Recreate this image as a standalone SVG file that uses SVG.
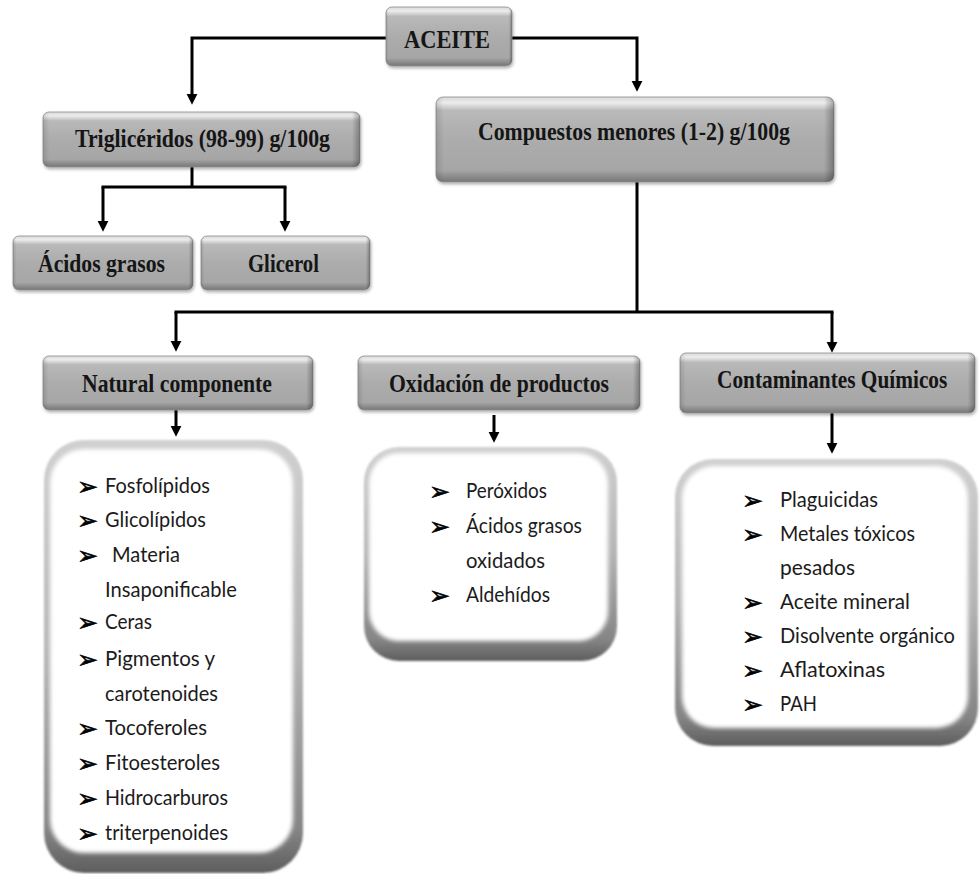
<svg xmlns="http://www.w3.org/2000/svg" width="980" height="874" viewBox="0 0 980 874">
  <defs>
    <style>
      .title { font-family: "Liberation Serif", "Times New Roman", serif; font-weight: bold; font-size: 26px; fill: #151515; }
      .item { font-family: Lato, "Open Sans", sans-serif; font-size: 22px; fill: #1b1b1b; }
      .bullet { font-family: "DejaVu Sans", sans-serif; font-size: 25px; fill: #000; stroke: #000; stroke-width: 0.6; }
      .wire { fill: none; stroke: #000; stroke-width: 3; }
      .arrow { fill: none; stroke: #000; stroke-width: 3; marker-end: url(#head); }
      .box { fill: url(#boxFill); stroke: #8e8e8e; stroke-width: 0.8; filter: url(#shadow); }
      .shade { fill: url(#boxEdge); }
      .frame { fill: url(#frameFill); filter: url(#soft); }
      .pane { fill: #ffffff; filter: url(#soft2); }
    </style>
    <linearGradient id="boxFill" x1="0" y1="0" x2="0" y2="1">
      <stop offset="0" stop-color="#d9d9d9"/>
      <stop offset="0.07" stop-color="#ececec"/>
      <stop offset="0.16" stop-color="#b9b9b9"/>
      <stop offset="0.5" stop-color="#acacac"/>
      <stop offset="0.86" stop-color="#a6a6a6"/>
      <stop offset="1" stop-color="#767676"/>
    </linearGradient>
    <linearGradient id="boxEdge" x1="0" y1="0" x2="1" y2="0">
      <stop offset="0" stop-color="#000" stop-opacity="0.12"/>
      <stop offset="0.02" stop-color="#000" stop-opacity="0"/>
      <stop offset="0.975" stop-color="#000" stop-opacity="0"/>
      <stop offset="1" stop-color="#000" stop-opacity="0.3"/>
    </linearGradient>
    <linearGradient id="frameFill" x1="0" y1="0" x2="0" y2="1">
      <stop offset="0" stop-color="#d0d0d0"/>
      <stop offset="0.5" stop-color="#b5b5b5"/>
      <stop offset="0.9" stop-color="#858585"/>
      <stop offset="1" stop-color="#5e5e5e"/>
    </linearGradient>
    <filter id="shadow" x="-5%" y="-10%" width="112%" height="130%">
      <feDropShadow dx="1" dy="2" stdDeviation="1.5" flood-color="#000" flood-opacity="0.3"/>
    </filter>
    <filter id="soft" x="-5%" y="-5%" width="110%" height="110%">
      <feGaussianBlur stdDeviation="1.2"/>
    </filter>
    <filter id="soft2" x="-5%" y="-5%" width="110%" height="110%">
      <feGaussianBlur stdDeviation="2.2"/>
    </filter>
    <marker id="head" viewBox="0 0 10 10" markerUnits="userSpaceOnUse" markerWidth="11" markerHeight="12" refX="3" refY="5" orient="auto">
      <path d="M0,0 L10,5 L0,10 z" fill="#000"/>
    </marker>
  </defs>

  <rect width="980" height="874" fill="#ffffff"/>

  <!-- connectors -->
  <g id="connectors">
    <path class="arrow" d="M386,38 H192 V97"/>
    <path class="arrow" d="M512,38 H637 V84"/>
    <path class="wire" d="M192,167 V187 M101.5,187 H286.5"/>
    <path class="arrow" d="M103,187 V224"/>
    <path class="arrow" d="M285,187 V224"/>
    <path class="wire" d="M637,182 V312 M174.5,312 H833.5"/>
    <path class="arrow" d="M176,312 V344"/>
    <path class="arrow" d="M832,312 V345"/>
    <path class="arrow" d="M176,410 V429"/>
    <path class="arrow" d="M494,415 V435"/>
    <path class="arrow" d="M832,413 V446"/>
  </g>

  <!-- header nodes -->
  <g id="aceite">
    <rect class="box" x="386" y="7" width="126" height="59" rx="6"/>
    <rect class="shade" x="386" y="7" width="126" height="59" rx="6"/>
    <text class="title" x="404" y="48" textLength="86" lengthAdjust="spacingAndGlyphs">ACEITE</text>
  </g>
  <g id="trigliceridos">
    <rect class="box" x="43" y="112" width="317" height="55" rx="6"/>
    <rect class="shade" x="43" y="112" width="317" height="55" rx="6"/>
    <text class="title" x="75" y="147" textLength="255" lengthAdjust="spacingAndGlyphs">Triglicéridos (98-99) g/100g</text>
  </g>
  <g id="compuestos">
    <rect class="box" x="436" y="97" width="398" height="85" rx="7"/>
    <rect class="shade" x="436" y="97" width="398" height="85" rx="7"/>
    <text class="title" x="478" y="140" textLength="312" lengthAdjust="spacingAndGlyphs">Compuestos menores (1-2) g/100g</text>
  </g>
  <g id="acidos-grasos">
    <rect class="box" x="13" y="236" width="180" height="54" rx="6"/>
    <rect class="shade" x="13" y="236" width="180" height="54" rx="6"/>
    <text class="title" x="38" y="272" textLength="127" lengthAdjust="spacingAndGlyphs">Ácidos grasos</text>
  </g>
  <g id="glicerol">
    <rect class="box" x="201" y="236" width="169" height="54" rx="6"/>
    <rect class="shade" x="201" y="236" width="169" height="54" rx="6"/>
    <text class="title" x="248" y="272" textLength="71" lengthAdjust="spacingAndGlyphs">Glicerol</text>
  </g>
  <g id="natural">
    <rect class="box" x="43" y="356" width="270" height="54" rx="6"/>
    <rect class="shade" x="43" y="356" width="270" height="54" rx="6"/>
    <text class="title" x="82" y="392" textLength="190" lengthAdjust="spacingAndGlyphs">Natural componente</text>
  </g>
  <g id="oxidacion">
    <rect class="box" x="358" y="356" width="282" height="54" rx="6"/>
    <rect class="shade" x="358" y="356" width="282" height="54" rx="6"/>
    <text class="title" x="389" y="392" textLength="220" lengthAdjust="spacingAndGlyphs">Oxidación de productos</text>
  </g>
  <g id="contaminantes">
    <rect class="box" x="680" y="353" width="295" height="60" rx="6"/>
    <rect class="shade" x="680" y="353" width="295" height="60" rx="6"/>
    <!-- condensed horizontally so the natural glyph run stays inside the canvas -->
    <text class="title" transform="translate(717,388) scale(0.82,1)" x="0" y="0">Contaminantes Químicos</text>
  </g>

  <!-- list panels -->
  <g id="natural-list">
    <rect class="frame" x="44" y="440" width="259" height="433" rx="40"/>
    <rect class="pane" x="50" y="449" width="243" height="404" rx="34"/>
    <g class="bullet">
      <text x="77" y="495">➢</text>
      <text x="77" y="529">➢</text>
      <text x="77" y="564">➢</text>
      <text x="77" y="631">➢</text>
      <text x="77" y="668">➢</text>
      <text x="77" y="737">➢</text>
      <text x="77" y="772">➢</text>
      <text x="77" y="807">➢</text>
      <text x="77" y="842">➢</text>
    </g>
    <g class="item">
      <text x="105" y="493" textLength="105" lengthAdjust="spacingAndGlyphs">Fosfolípidos</text>
      <text x="105" y="527" textLength="101" lengthAdjust="spacingAndGlyphs">Glicolípidos</text>
      <text x="112" y="562" textLength="68" lengthAdjust="spacingAndGlyphs">Materia</text>
      <text x="105" y="597" textLength="132" lengthAdjust="spacingAndGlyphs">Insaponificable</text>
      <text x="105" y="629" textLength="47" lengthAdjust="spacingAndGlyphs">Ceras</text>
      <text x="105" y="666" textLength="110" lengthAdjust="spacingAndGlyphs">Pigmentos y</text>
      <text x="105" y="701" textLength="113" lengthAdjust="spacingAndGlyphs">carotenoides</text>
      <text x="105" y="735" textLength="102" lengthAdjust="spacingAndGlyphs">Tocoferoles</text>
      <text x="105" y="770" textLength="115" lengthAdjust="spacingAndGlyphs">Fitoesteroles</text>
      <text x="105" y="805" textLength="123" lengthAdjust="spacingAndGlyphs">Hidrocarburos</text>
      <text x="105" y="840" textLength="123" lengthAdjust="spacingAndGlyphs">triterpenoides</text>
    </g>
  </g>

  <g id="oxidacion-list">
    <rect class="frame" x="364" y="447" width="253" height="214" rx="35"/>
    <rect class="pane" x="369" y="453" width="239" height="188" rx="30"/>
    <g class="bullet">
      <text x="429" y="500">➢</text>
      <text x="429" y="535">➢</text>
      <text x="429" y="604">➢</text>
    </g>
    <g class="item">
      <text x="466" y="498" textLength="81" lengthAdjust="spacingAndGlyphs">Peróxidos</text>
      <text x="466" y="533" textLength="116" lengthAdjust="spacingAndGlyphs">Ácidos grasos</text>
      <text x="466" y="568" textLength="79" lengthAdjust="spacingAndGlyphs">oxidados</text>
      <text x="466" y="602" textLength="84" lengthAdjust="spacingAndGlyphs">Aldehídos</text>
    </g>
  </g>

  <g id="contaminantes-list">
    <rect class="frame" x="675" y="459" width="303" height="287" rx="38"/>
    <rect class="pane" x="682" y="466" width="286" height="262" rx="32"/>
    <g class="bullet">
      <text x="742" y="509">➢</text>
      <text x="742" y="543">➢</text>
      <text x="742" y="611">➢</text>
      <text x="742" y="645">➢</text>
      <text x="742" y="679">➢</text>
      <text x="742" y="713">➢</text>
    </g>
    <g class="item">
      <text x="780" y="507" textLength="98" lengthAdjust="spacingAndGlyphs">Plaguicidas</text>
      <text x="780" y="541" textLength="135" lengthAdjust="spacingAndGlyphs">Metales tóxicos</text>
      <text x="780" y="575" textLength="75" lengthAdjust="spacingAndGlyphs">pesados</text>
      <text x="780" y="609" textLength="130" lengthAdjust="spacingAndGlyphs">Aceite mineral</text>
      <text x="780" y="643" textLength="175" lengthAdjust="spacingAndGlyphs">Disolvente orgánico</text>
      <text x="780" y="677" textLength="105" lengthAdjust="spacingAndGlyphs">Aflatoxinas</text>
      <text x="780" y="711" textLength="37" lengthAdjust="spacingAndGlyphs">PAH</text>
    </g>
  </g>
</svg>
